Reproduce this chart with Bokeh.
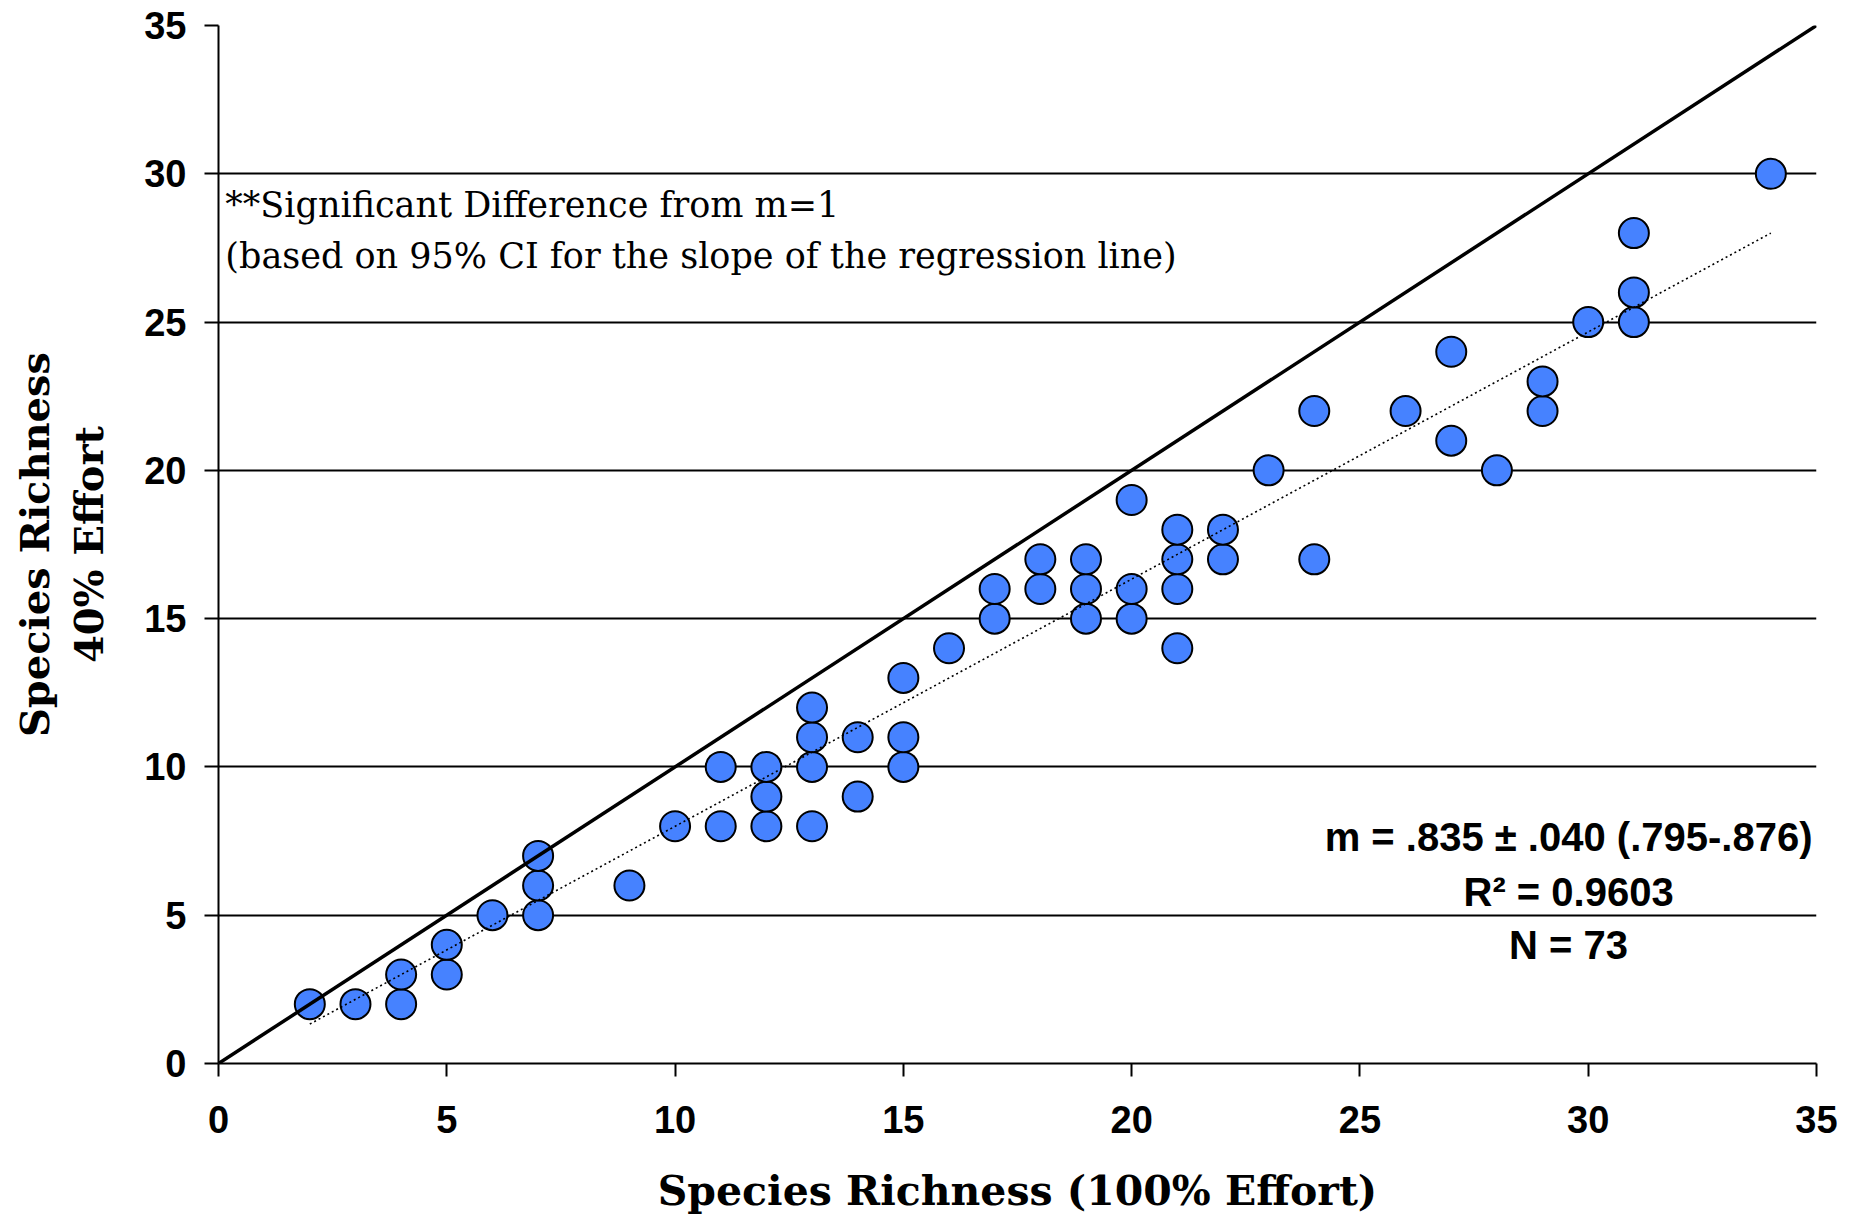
from bokeh.plotting import figure
from bokeh.models import Range1d, FixedTicker, ColumnDataSource
from bokeh.core.properties import value
from bokeh.embed import file_html
from bokeh.resources import INLINE

# ---- data ----
richness_100 = [2, 3, 4, 4, 5, 5, 6, 7, 7, 7, 9, 10, 11, 11, 12, 12, 12, 13, 13, 13, 13,
                14, 14, 15, 15, 15, 16, 17, 17, 18, 18, 19, 19, 19, 20, 20, 20, 21, 21, 21, 21,
                22, 22, 23, 24, 24, 26, 27, 27, 28, 29, 29, 30, 31, 31, 31, 34]
richness_40 = [2, 2, 2, 3, 3, 4, 5, 5, 6, 7, 6, 8, 8, 10, 8, 9, 10, 8, 10, 11, 12,
               9, 11, 10, 11, 13, 14, 15, 16, 16, 17, 15, 16, 17, 15, 16, 19, 14, 16, 17, 18,
               17, 18, 20, 17, 22, 22, 21, 24, 20, 22, 23, 25, 25, 26, 28, 30]
one_to_one_x = [0, 35]
one_to_one_y = [0, 35]
regression_x = [2, 34]
regression_y = [1.33, 28.0]
ticks = [0, 5, 10, 15, 20, 25, 30, 35]

note_lines = ["**Significant Difference from m=1",
              "(based on 95% CI for the slope of the regression line)"]
stats_lines = ["m = .835 \u00b1 .040 (.795-.876)", "R\u00b2 = 0.9603", "N = 73"]

# ---- figure ----
p = figure(width=1860, height=1218, x_range=Range1d(0, 35), y_range=Range1d(0, 35),
           output_backend="svg", toolbar_location=None,
           min_border_left=218, min_border_right=44, min_border_top=25, min_border_bottom=155)
p.outline_line_color = None
p.background_fill_color = "white"
p.border_fill_color = "white"

p.xgrid.visible = False
p.ygrid.ticker = FixedTicker(ticks=ticks)
p.ygrid.grid_line_color = "black"
p.ygrid.grid_line_width = 2

for ax in (p.xaxis, p.yaxis):
    ax.ticker = FixedTicker(ticks=ticks)
    ax.axis_line_color = "black"
    ax.axis_line_width = 2
    ax.major_tick_line_color = "black"
    ax.major_tick_line_width = 2
    ax.major_tick_in = 0
    ax.minor_tick_line_color = None
    ax.major_label_text_font = "Liberation Sans"
    ax.major_label_text_font_style = "bold"
    ax.major_label_text_font_size = "38px"
    ax.major_label_text_color = "black"
    ax.axis_label_text_font = "DejaVu Serif"
    ax.axis_label_text_font_style = "bold"
    ax.axis_label_text_color = "black"

p.xaxis.axis_label_text_font_size = "41px"
p.yaxis.axis_label_text_font_size = "40px"
p.xaxis.major_tick_out = 13
p.yaxis.major_tick_out = 14
p.xaxis.major_label_standoff = 29
p.yaxis.major_label_standoff = 18
p.xaxis.axis_label = "Species Richness (100% Effort)"
p.yaxis.axis_label = "Species Richness\n40% Effort"
p.yaxis.axis_label_text_line_height = 1.15
p.xaxis.axis_label_standoff = 31
p.yaxis.axis_label_standoff = 29

# ---- marks ----
p.scatter(richness_100, richness_40, size=30, fill_color="#4682FF",
          line_color="black", line_width=2)
p.line(one_to_one_x, one_to_one_y, line_color="black", line_width=3.5)
p.line(regression_x, regression_y, line_color="black", line_width=1.6, line_dash="2 3")

note_src = ColumnDataSource(dict(x=[0.15, 0.15], y=[28.96, 27.24], t=note_lines))
p.text(x="x", y="y", text="t", source=note_src, text_font=value("DejaVu Serif"),
       text_font_size="35px", text_align="left", text_baseline="middle", text_color="black")

stats_src = ColumnDataSource(dict(x=[29.57, 29.57, 29.57], y=[7.65, 5.77, 3.98], t=stats_lines))
p.text(x="x", y="y", text="t", source=stats_src, text_font=value("Liberation Sans"),
       text_font_style="bold", text_font_size="40px", text_align="center",
       text_baseline="middle", text_color="black")

open("out.html", "w").write(file_html(p, INLINE))
